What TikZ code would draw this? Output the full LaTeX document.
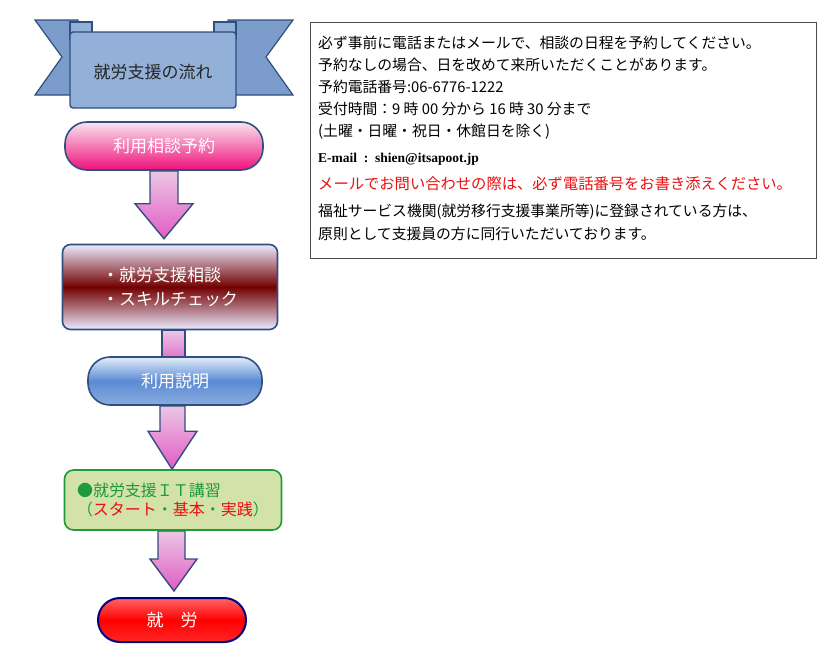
\documentclass[tikz,border=0pt]{standalone}
\usepackage{fontspec}
\setmainfont{Noto Sans CJK JP}
\newfontfamily\lserif{Liberation Serif}
\usetikzlibrary{calc,backgrounds}
\definecolor{edge}{HTML}{2F4F7F}
\definecolor{bannerc}{HTML}{93B0D8}
\definecolor{bannerd}{HTML}{7C9CCC}
\definecolor{greenf}{HTML}{D3E2A8}
\definecolor{greent}{HTML}{1E9A3A}
\definecolor{redt}{HTML}{E81010}
\definecolor{bluetop}{HTML}{E4EEFA}
\definecolor{bluemid}{HTML}{5B8BD4}
\definecolor{bluebot}{HTML}{8AACDE}
\definecolor{pinktop}{HTML}{F8E4F0}
\definecolor{pinkbot}{HTML}{F0107A}
\definecolor{arrtop}{HTML}{EBC6E4}
\definecolor{arrbot}{HTML}{E25CC4}
\begin{document}
\begin{tikzpicture}[x=1pt,y=1pt,
  box/.style={draw=edge,line width=1.6pt,text=white,font=\fontsize{17}{20}\selectfont,inner sep=0pt},
  pill/.style={box,rounded corners=22pt},
  arr/.style={draw=edge,line width=1.4pt,top color=arrtop,bottom color=arrbot},
  info/.style={anchor=base west,inner sep=0pt,font=\fontsize{14.8}{17}\selectfont}]
\useasboundingbox (0,0) rectangle (839,-657);
% banner
\draw[edge,fill=bannerd,line width=1.2pt] (35,-20) -- (78,-20) -- (78,-95) -- (35,-95) -- (62,-57) -- cycle;
\draw[edge,fill=bannerd,line width=1.2pt] (293,-20) -- (228,-20) -- (228,-95) -- (293,-95) -- (266,-57) -- cycle;
\draw[edge,fill=bannerc,line width=1.2pt] (70,-22) rectangle (92,-40);
\draw[edge,fill=bannerc,line width=1.2pt] (214,-22) rectangle (236,-40);
\draw[edge,fill=bannerc,line width=1.4pt,rounded corners=3pt] (70,-32) rectangle (236,-108);
\node[font=\fontsize{17}{20}\selectfont,text=black!85] (ban) at (153,-72) {就労支援の流れ};
% boxes
\node[pill,minimum width=198pt,minimum height=48pt,top color=pinktop,bottom color=pinkbot] (b1) at (164,-146) {利用相談予約};
\node[box,rounded corners=8pt,minimum width=215pt,minimum height=85pt,top color=blue!8!white,bottom color=blue!8!white,middle color=red!45!black,align=left] (b2) at (170,-287) {・就労支援相談\\[4pt]・スキルチェック};
\node[pill,minimum width=174pt,minimum height=48pt,top color=bluetop,bottom color=bluebot,middle color=bluemid] (b3) at (175,-381) {利用説明};
\node[box,draw=greent,fill=greenf,rounded corners=9pt,minimum width=217pt,minimum height=60pt,align=left,text=greent,font=\fontsize{16}{19}\selectfont] (b4) at (173,-500) {●就労支援ＩＴ講習\\（{\color{redt}スタート}・{\color{redt}基本}・{\color{redt}実践}）};
\node[pill,line width=2pt,draw=blue!50!black,minimum width=148pt,minimum height=44pt,top color=red!60!white,bottom color=red!85!white,middle color=red] (b5) at (172,-620) {就\quad 労};
% arrows
\begin{scope}[on background layer]
\draw[arr] ($(b1.south)+(-14,0)$) -- ($(b2.north)+(-20,40)$) -- ($(b2.north)+(-35,40)$) -- ($(b2.north)+(-6,5)$) -- ($(b2.north)+(23,40)$) -- ($(b2.north)+(8,40)$) -- ($(b1.south)+(14,0)$) -- cycle;
\draw[arr] ($(b2.south)+(-8,0)$) rectangle ($(b3.north)+(10,-10)$);
\draw[arr] ($(b3.south)+(-15,0)$) -- ($(b4.north)+(-13,38)$) -- ($(b4.north)+(-25,38)$) -- ($(b4.north)+(-1,0)$) -- ($(b4.north)+(24,38)$) -- ($(b4.north)+(12,38)$) -- ($(b3.south)+(10,0)$) -- cycle;
\draw[arr] ($(b4.south)+(-15,0)$) -- ($(b5.north)+(-14,38)$) -- ($(b5.north)+(-22,38)$) -- ($(b5.north)+(2,6)$) -- ($(b5.north)+(25,38)$) -- ($(b5.north)+(13,38)$) -- ($(b4.south)+(12,0)$) -- cycle;
\end{scope}
% info box
\node[draw=black!70,line width=1pt,minimum width=506pt,minimum height=236pt,inner sep=0pt] (info) at (563,-140) {};
\node[info] (l1) at (318,-48) {必ず事前に電話またはメールで、相談の日程を予約してください。};
\node[info] (l2) at (318,-70) {予約なしの場合、日を改めて来所いただくことがあります。};
\node[info] (l3) at (318,-92) {予約電話番号:06-6776-1222};
\node[info] (l4) at (318,-114) {受付時間：9 時 00 分から 16 時 30 分まで};
\node[info] (l5) at (318,-136) {(土曜・日曜・祝日・休館日を除く)};
\node[info,font=\lserif\bfseries\fontsize{13.5}{15}\selectfont] (l6) at (318,-162) {E-mail\ \ :\ \ shien@itsapoot.jp};
\node[info,text=redt,font=\fontsize{15.3}{17}\selectfont] (l7) at (318,-189) {メールでお問い合わせの際は、必ず電話番号をお書き添えください。};
\node[info] (l8) at (318,-216) {福祉サービス機関(就労移行支援事業所等)に登録されている方は、};
\node[info] (l9) at (318,-239) {原則として支援員の方に同行いただいております。};
\end{tikzpicture}
\end{document}
